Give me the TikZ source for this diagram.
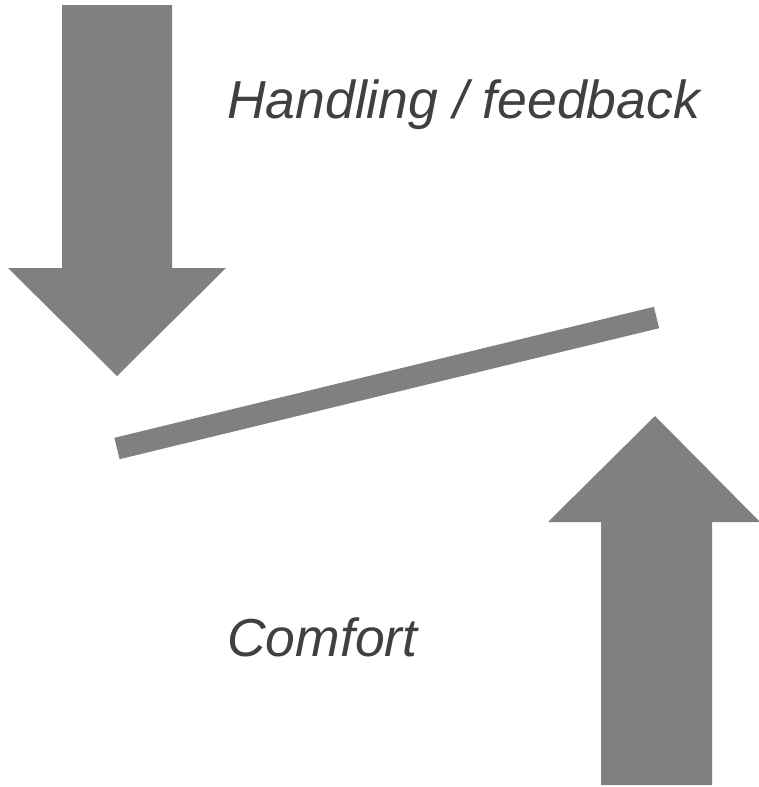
\documentclass[tikz,border=0pt]{standalone}
\usepackage{fontspec}
\setmainfont{Liberation Sans}
\definecolor{arrowgray}{HTML}{808080}
\definecolor{textgray}{HTML}{404040}
\tikzset{
  bigarrow/.style={fill=arrowgray, draw=none},
  lbl/.style={anchor=base west, inner sep=0pt, text=textgray, font=\itshape\fontsize{53.5}{58}\selectfont},
}
\begin{document}
\begin{tikzpicture}[x=1pt,y=-1pt]
\useasboundingbox (0,0) rectangle (759,787);
\fill[white] (0,0) rectangle (759,787);
% down arrow
\fill[bigarrow] (62,5) -- (172,5) -- (172,268) -- (226,268) -- (117,376) -- (8,268) -- (62,268) -- cycle;
% up arrow
\fill[bigarrow] (601,785) -- (712,785) -- (712,522) -- (760,522) -- (655,416) -- (548,522) -- (601,522) -- cycle;
% bar
\coordinate (barA) at (117,448.5);
\coordinate (barB) at (656.5,317.5);
\draw[arrowgray, line width=22pt] (barA) -- (barB);
% labels
\node[lbl] (handling) at (227,118) {Handling / feedback};
\node[lbl] (comfort) at (227,656) {Comfort};
\end{tikzpicture}
\end{document}
